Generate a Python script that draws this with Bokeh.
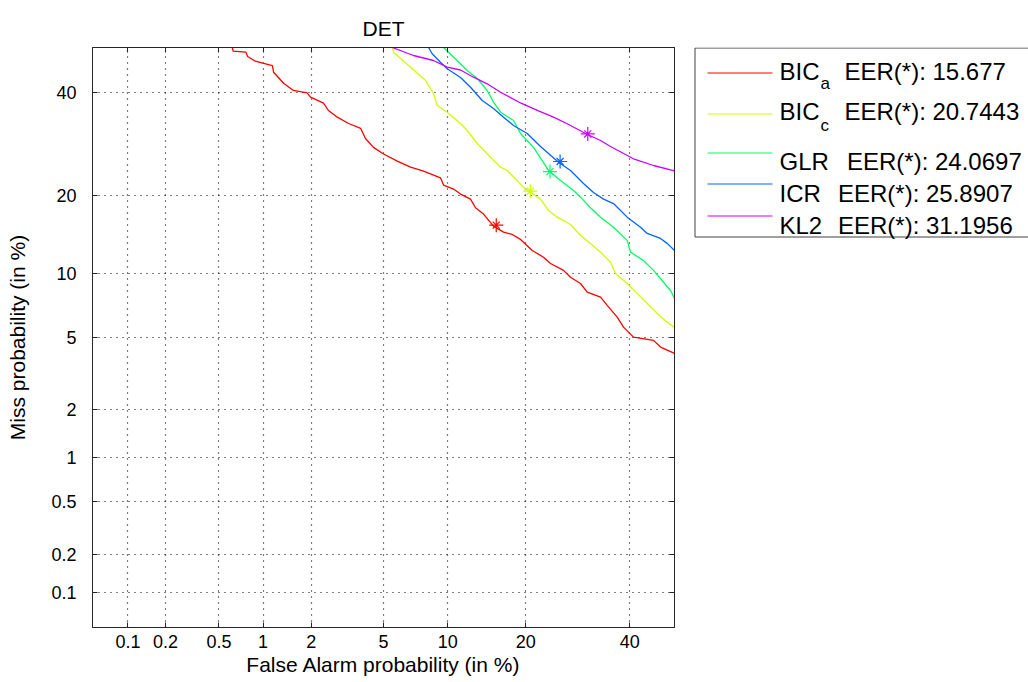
from statistics import NormalDist

from bokeh.plotting import figure
from bokeh.models import Range1d, FixedTicker, LinearAxis, CustomJSTickFormatter
from bokeh.layouts import row
from bokeh.embed import file_html
from bokeh.resources import INLINE
from bokeh.core.properties import value

# ---------------- data (percent) ----------------
TICKS = [0.1, 0.2, 0.5, 1, 2, 5, 10, 20, 40]
TICK_LABELS = ["0.1", "0.2", "0.5", "1", "2", "5", "10", "20", "40"]
P_MIN, P_MAX = 0.05, 50.0

names = ["BIC", "BIC", "GLR", "ICR", "KL2"]
subs = ["a", "c", "", "", ""]
eer = [15.677, 20.7443, 24.0697, 25.8907, 31.1956]
colors = ["#FF0000", "#CCFF00", "#00FF66", "#0066FF", "#CC00FF"]

bica_pfa = [0.62, 0.63, 0.77, 0.79, 0.89, 1.01, 1.15, 1.17, 1.36, 1.56, 1.89, 1.98,
            2.36, 2.52, 2.83, 3.27, 3.80, 4.03, 4.44, 5.0, 5.85, 6.78, 7.80, 9.29,
            9.58, 10.58, 11.32, 12.44, 13.03, 14.01, 15.31, 16.69, 17.94, 19.20,
            21.06, 22.95, 24.17, 26.52, 27.83, 29.76, 31.08, 33.79, 35.18, 37.30,
            38.66, 40.84, 45.28, 46.85, 50.0]
bica_pmiss = [50.0, 49.16, 48.94, 47.96, 46.90, 46.39, 45.93, 44.43, 41.91, 40.37,
              39.86, 38.90, 37.60, 36.04, 34.63, 33.32, 32.30, 30.29, 28.55, 27.28,
              25.97, 24.88, 24.16, 22.99, 21.76, 21.09, 20.28, 19.49, 18.16, 17.23,
              15.55, 14.74, 14.44, 13.81, 12.48, 11.71, 11.02, 10.30, 9.62, 9.03,
              8.26, 7.83, 7.17, 6.30, 5.63, 5.02, 4.83, 4.46, 4.13]

bicc_pfa = [5.53, 5.61, 6.78, 7.97, 8.65, 8.99, 9.94, 11.32, 12.06, 13.24, 14.91,
            16.27, 17.22, 19.67, 20.78, 22.44, 23.82, 25.36, 27.83, 29.76, 31.74,
            33.79, 35.87, 36.94, 39.46, 41.64, 43.87, 46.10, 48.35, 50.0]
bicc_pmiss = [50.0, 48.94, 45.55, 42.57, 39.71, 37.11, 35.68, 33.32, 31.89, 29.30,
              26.69, 24.86, 24.27, 21.41, 20.54, 19.49, 17.76, 16.79, 15.77, 14.31,
              13.32, 12.28, 11.16, 9.99, 9.03, 8.15, 7.32, 6.57, 5.96, 5.61]

glr_pfa = [9.58, 10.96, 12.06, 13.24, 14.48, 15.31, 16.27, 18.14, 19.20, 21.27,
           23.82, 25.97, 28.40, 29.76, 31.74, 33.79, 36.51, 39.46, 40.18, 43.04,
           45.28, 47.52, 49.10, 50.0]
glr_pmiss = [50.0, 47.06, 44.81, 43.02, 40.37, 37.82, 35.68, 33.94, 31.28, 28.55,
             24.27, 22.53, 20.87, 19.79, 18.16, 16.79, 15.40, 13.69, 12.28, 11.35,
             10.30, 9.15, 8.40, 7.73]

icr_pfa = [8.22, 8.53, 9.29, 9.94, 11.32, 12.44, 13.85, 15.31, 16.69, 18.14, 20.25,
           22.44, 25.60, 27.83, 30.34, 32.35, 34.41, 36.51, 39.46, 42.38, 43.87,
           46.85, 48.35, 50.0]
icr_pmiss = [50.0, 48.58, 46.68, 45.19, 43.24, 41.09, 38.19, 36.47, 34.63, 32.91,
             31.28, 28.72, 25.76, 24.27, 22.02, 20.54, 19.49, 18.80, 16.79, 15.40,
             14.57, 13.93, 13.32, 12.48]

kl2_pfa = [5.53, 7.00, 8.65, 9.94, 11.32, 12.79, 14.48, 16.27, 19.20, 22.10, 24.70,
           27.21, 31.14, 33.79, 35.87, 40.84, 45.28, 50.0]
kl2_pmiss = [50.0, 48.19, 47.06, 45.55, 44.92, 43.31, 41.84, 39.99, 37.65, 35.94,
             34.63, 33.26, 31.08, 29.89, 28.72, 26.39, 25.16, 24.18]

series_pfa = [bica_pfa, bicc_pfa, glr_pfa, icr_pfa, kl2_pfa]
series_pmiss = [bica_pmiss, bicc_pmiss, glr_pmiss, icr_pmiss, kl2_pmiss]

# ---------------- helpers ----------------
_nd = NormalDist()


def ppnd(vals):
    """percent -> standard normal deviate (DET scale)"""
    return [0.0 if v == 50.0 else _nd.inv_cdf(v / 100.0) for v in vals]


FONT = "Liberation Sans"
tick_pos = ppnd(TICKS)
lo, hi = ppnd([P_MIN, P_MAX])

fmt_code = """
let best = 0, bd = 1e9;
for (let i = 0; i < pos.length; i++) {
  const d = Math.abs(pos[i] - tick);
  if (d < bd) { bd = d; best = i; }
}
return labs[best];
"""

BT, BB = 47, 53  # top / bottom borders shared by both panels
H = 680

p = figure(width=690, height=H, x_range=Range1d(lo, hi), y_range=Range1d(lo, hi),
           output_backend="svg", toolbar_location=None, title="DET",
           min_border_left=92, min_border_right=16, min_border_top=BT,
           min_border_bottom=BB)
p.background_fill_color = "white"
p.border_fill_color = "white"
p.outline_line_color = "#262626"

p.title.text_font = FONT
p.title.text_font_size = "21px"
p.title.text_font_style = "normal"
p.title.align = "center"
p.title.text_color = "black"
p.title.standoff = 16

for ax in (p.xaxis[0], p.yaxis[0]):
    ax.ticker = FixedTicker(ticks=tick_pos)
    ax.formatter = CustomJSTickFormatter(args=dict(pos=tick_pos, labs=TICK_LABELS), code=fmt_code)
    ax.major_tick_in = 5
    ax.major_tick_out = 0
    ax.minor_tick_in = 0
    ax.minor_tick_out = 0
    ax.axis_line_color = "#262626"
    ax.major_tick_line_color = "#262626"
    ax.major_label_text_font = FONT
    ax.major_label_text_font_size = "18px"
    ax.major_label_text_color = "black"
    ax.axis_label_text_font = FONT
    ax.axis_label_text_font_size = "21px"
    ax.axis_label_text_font_style = "normal"
    ax.axis_label_text_color = "black"

p.xaxis[0].axis_label = "False Alarm probability (in %)"
p.yaxis[0].axis_label = "Miss probability (in %)"
p.xaxis[0].major_label_standoff = 7
p.xaxis[0].axis_label_standoff = 2
p.yaxis[0].major_label_standoff = 16
p.yaxis[0].axis_label_standoff = 19

for loc in ("above", "right"):
    ax = LinearAxis(ticker=FixedTicker(ticks=tick_pos),
                    formatter=CustomJSTickFormatter(code="return '';"),
                    major_tick_in=5, major_tick_out=0, minor_tick_in=0, minor_tick_out=0,
                    major_label_standoff=0, axis_line_color="#262626",
                    major_tick_line_color="#262626")
    p.add_layout(ax, loc)

for g in (p.xgrid[0], p.ygrid[0]):
    g.ticker = FixedTicker(ticks=tick_pos)
    g.grid_line_color = "#000000"
    g.grid_line_alpha = 1.0
    g.grid_line_dash = "1 5"
    g.grid_line_width = 1.2

for pfa, pmiss, c in zip(series_pfa, series_pmiss, colors):
    p.line(ppnd(pfa), ppnd(pmiss), line_color=c, line_width=1.3)

p.scatter(ppnd(eer), ppnd(eer), marker="cross", size=14, line_color=colors, line_width=1.2)
p.scatter(ppnd(eer), ppnd(eer), marker="x", size=10, line_color=colors, line_width=1.2)

# ---------------- legend panel (y coordinates are page pixels from top) ----------------
LW = 338
lg = figure(width=LW, height=H, x_range=Range1d(0, LW), y_range=Range1d(H - BB, BT),
            x_axis_type=None, y_axis_type=None, output_backend="svg",
            toolbar_location=None, min_border_left=0, min_border_right=0,
            min_border_top=BT, min_border_bottom=BB, outline_line_color=None)
lg.background_fill_color = "white"
lg.border_fill_color = "white"
lg.quad(left=4.5, right=LW + 200, top=47.5, bottom=236.5, fill_color="white",
        line_color="#404040", line_width=1)

line_y = [72.5, 113.5, 152.5, 183.5, 215.5]
base_y = [71, 110.5, 160.5, 193, 225]
sub_y = [83, 125, 0, 0, 0]
eer_x = [154, 154, 156.5, 147.5, 147.5]

for i in range(len(names)):
    lg.line([17, 82], [line_y[i], line_y[i]], line_color=colors[i], line_width=1.2)
    lg.text(x=[89], y=[base_y[i]], text=[names[i]], text_font=value(FONT),
            text_font_size="24px", text_baseline="alphabetic", text_color="black")
    if subs[i]:
        lg.text(x=[130], y=[sub_y[i]], text=[subs[i]], text_font=value(FONT),
                text_font_size="17px", text_baseline="alphabetic", text_color="black")
    lg.text(x=[eer_x[i]], y=[base_y[i]], text=[f"EER(*): {eer[i]}"], text_font=value(FONT),
            text_font_size="24px", text_baseline="alphabetic", text_color="black")

layout = row(p, lg)
open("out.html", "w").write(file_html(layout, INLINE))
